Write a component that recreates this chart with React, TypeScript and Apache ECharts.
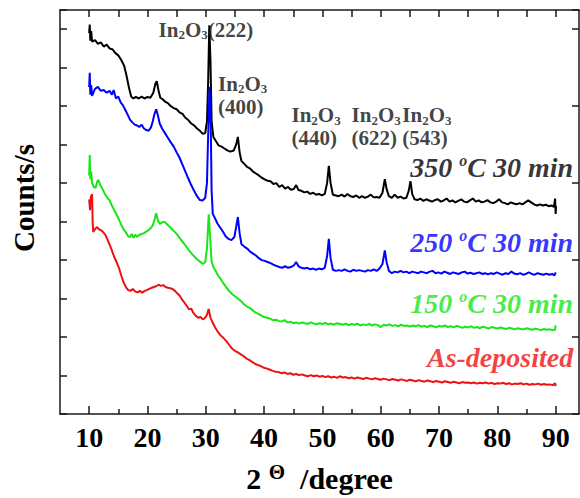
import React, { useEffect, useRef } from "react";
import * as echarts from "echarts";

// ---- data (2θ in degrees, counts in arbitrary offset units) ----
const xTickLabels = [10, 20, 30, 40, 50, 60, 70, 80, 90];
const xMinorTicks = [15, 25, 35, 45, 55, 65, 75, 85];
const xTopTicks = [10, 15, 20, 25, 30, 35, 40, 45, 50, 55, 60, 65, 70, 75, 80, 85, 90];

const sampleNames = ["350 oC 30 min", "250 oC 30 min", "150 oC 30 min", "As-deposited"];
const sampleColors = ["#000000", "#0000ff", "#19e619", "#ee1111"];
const sampleLabelY = [6.4, 4.47, 2.86, 1.47];
const sampleLabelX = 93.0;

const peakHkl = ["(222)", "(400)", "(440)", "(622)", "(543)"];
const peakLabelX = [21.9, 32.1, 44.7, 55.0, 63.7];
const peakLabelY = [9.99, 8.28, 7.46, 7.46, 7.46];

const xrd350: [number, number][] = [
  [10.0, 9.9], [10.1, 10.12], [10.2, 9.7], [10.35, 9.95], [10.5, 9.68], [11.0, 9.72], [11.5, 9.62], [12.0, 9.66],
  [12.5, 9.55], [13.0, 9.6], [13.5, 9.5], [14.0, 9.48], [14.5, 9.38], [15.0, 9.32], [15.5, 9.2], [16.0, 9.05],
  [16.4, 8.8], [16.8, 8.5], [17.2, 8.25], [17.6, 8.2], [18.0, 8.24], [18.5, 8.2], [19.0, 8.25], [19.5, 8.2],
  [20.0, 8.24], [20.5, 8.22], [21.0, 8.35], [21.4, 8.6], [21.6, 8.65], [21.9, 8.4], [22.2, 8.22], [22.6, 8.18],
  [23.0, 8.12], [23.5, 8.08], [24.0, 8.0], [24.5, 7.95], [25.0, 7.92], [25.5, 7.84], [26.0, 7.8], [26.5, 7.7],
  [27.0, 7.64], [27.5, 7.55], [28.0, 7.5], [28.5, 7.42], [29.0, 7.36], [29.5, 7.28], [29.9, 7.3], [30.2, 7.6],
  [30.4, 8.6], [30.6, 10.1], [30.8, 9.2], [31.0, 7.6], [31.3, 7.2], [31.7, 7.1], [32.2, 6.98], [32.7, 6.95],
  [33.2, 6.9], [33.7, 6.85], [34.2, 6.82], [34.8, 6.85], [35.2, 7.0], [35.5, 7.2], [35.8, 6.8], [36.1, 6.58],
  [36.6, 6.5], [37.1, 6.42], [37.6, 6.38], [38.1, 6.3], [38.6, 6.25], [39.1, 6.2], [39.6, 6.14], [40.1, 6.1],
  [40.6, 6.06], [41.1, 6.05], [41.6, 5.98], [42.1, 6.0], [42.6, 5.9], [43.1, 5.95], [43.6, 5.86], [44.1, 5.9],
  [44.6, 5.83], [45.1, 5.85], [45.5, 5.95], [45.9, 5.82], [46.4, 5.8], [46.9, 5.76], [47.4, 5.78], [47.9, 5.72],
  [48.4, 5.75], [48.9, 5.7], [49.4, 5.72], [49.9, 5.68], [50.4, 5.72], [50.8, 6.0], [51.1, 6.45], [51.4, 6.0],
  [51.8, 5.7], [52.3, 5.68], [52.8, 5.66], [53.3, 5.7], [53.8, 5.65], [54.3, 5.72], [54.8, 5.66], [55.3, 5.64],
  [55.8, 5.68], [56.3, 5.62], [56.8, 5.66], [57.3, 5.62], [57.8, 5.65], [58.3, 5.7], [58.8, 5.63], [59.3, 5.64],
  [59.8, 5.62], [60.3, 5.75], [60.7, 6.1], [61.0, 5.85], [61.4, 5.66], [61.9, 5.62], [62.4, 5.7], [62.9, 5.62],
  [63.4, 5.65], [63.9, 5.6], [64.4, 5.62], [64.8, 5.8], [65.1, 6.05], [65.4, 5.72], [65.8, 5.58], [66.3, 5.56],
  [66.8, 5.6], [67.3, 5.54], [67.8, 5.58], [68.3, 5.55], [68.8, 5.52], [69.3, 5.56], [69.8, 5.58], [70.3, 5.52],
  [70.8, 5.55], [71.3, 5.6], [71.8, 5.52], [72.3, 5.55], [72.8, 5.5], [73.3, 5.54], [73.8, 5.58], [74.3, 5.52],
  [74.8, 5.5], [75.3, 5.55], [75.8, 5.6], [76.3, 5.52], [76.8, 5.55], [77.3, 5.5], [77.8, 5.52], [78.3, 5.56],
  [78.8, 5.5], [79.3, 5.48], [79.8, 5.52], [80.3, 5.58], [80.8, 5.5], [81.3, 5.48], [81.8, 5.45], [82.3, 5.5],
  [82.8, 5.47], [83.3, 5.45], [83.8, 5.48], [84.3, 5.45], [84.8, 5.5], [85.3, 5.55], [85.8, 5.5], [86.3, 5.45],
  [86.8, 5.42], [87.3, 5.45], [87.8, 5.42], [88.3, 5.44], [88.8, 5.4], [89.3, 5.42], [89.7, 5.38], [89.9, 5.6],
  [90.0, 5.2], [90.05, 5.4],
];

const xrd250: [number, number][] = [
  [10.0, 8.5], [10.1, 8.87], [10.2, 8.3], [10.35, 8.55], [10.5, 8.27], [11.0, 8.45], [11.5, 8.5], [12.0, 8.4],
  [12.5, 8.42], [13.0, 8.35], [13.5, 8.4], [13.9, 8.3], [14.2, 8.42], [14.6, 8.2], [15.0, 8.25], [15.4, 8.1],
  [15.8, 8.02], [16.2, 7.9], [16.6, 7.78], [17.0, 7.65], [17.4, 7.58], [17.8, 7.52], [18.2, 7.5], [18.6, 7.46],
  [19.0, 7.52], [19.4, 7.42], [19.8, 7.38], [20.2, 7.36], [20.6, 7.45], [20.9, 7.6], [21.2, 7.8], [21.5, 7.92],
  [21.8, 7.75], [22.1, 7.55], [22.5, 7.42], [23.0, 7.3], [23.5, 7.18], [24.0, 7.06], [24.5, 6.95], [25.0, 6.8],
  [25.5, 6.66], [26.0, 6.48], [26.5, 6.3], [27.0, 6.12], [27.5, 5.95], [28.0, 5.8], [28.5, 5.66], [29.0, 5.56],
  [29.5, 5.55], [29.9, 5.62], [30.2, 6.0], [30.4, 7.2], [30.65, 8.5], [30.85, 7.5], [31.0, 5.8], [31.2, 5.2],
  [31.6, 5.08], [32.0, 4.95], [32.4, 4.86], [32.9, 4.75], [33.4, 4.62], [33.9, 4.55], [34.4, 4.52], [34.9, 4.6],
  [35.2, 4.85], [35.5, 5.12], [35.8, 4.7], [36.1, 4.42], [36.6, 4.35], [37.1, 4.3], [37.6, 4.22], [38.1, 4.17],
  [38.6, 4.12], [39.1, 4.05], [39.6, 4.0], [40.1, 3.98], [40.6, 3.95], [41.1, 3.92], [41.6, 3.88], [42.1, 3.85],
  [42.6, 3.82], [43.1, 3.8], [43.6, 3.84], [44.1, 3.8], [44.6, 3.82], [45.1, 3.86], [45.5, 3.95], [45.9, 3.84],
  [46.4, 3.8], [46.9, 3.78], [47.4, 3.8], [47.9, 3.76], [48.4, 3.78], [48.9, 3.75], [49.4, 3.78], [49.9, 3.76],
  [50.4, 3.8], [50.8, 4.1], [51.1, 4.55], [51.4, 4.05], [51.8, 3.75], [52.3, 3.72], [52.8, 3.74], [53.3, 3.72],
  [53.8, 3.76], [54.3, 3.72], [54.8, 3.7], [55.3, 3.75], [55.8, 3.72], [56.3, 3.74], [56.8, 3.72], [57.3, 3.7],
  [57.8, 3.74], [58.3, 3.72], [58.8, 3.76], [59.3, 3.72], [59.8, 3.78], [60.3, 3.9], [60.7, 4.25], [61.0, 3.95],
  [61.4, 3.72], [61.9, 3.66], [62.4, 3.7], [62.9, 3.68], [63.4, 3.72], [63.9, 3.68], [64.4, 3.7], [64.9, 3.66],
  [65.4, 3.7], [65.9, 3.68], [66.4, 3.66], [66.9, 3.7], [67.4, 3.68], [67.9, 3.66], [68.4, 3.7], [68.9, 3.72],
  [69.4, 3.66], [69.9, 3.68], [70.4, 3.65], [70.9, 3.7], [71.4, 3.67], [71.9, 3.64], [72.4, 3.68], [72.9, 3.66],
  [73.4, 3.64], [73.9, 3.68], [74.4, 3.7], [74.9, 3.65], [75.4, 3.67], [75.9, 3.64], [76.4, 3.66], [76.9, 3.68],
  [77.4, 3.64], [77.9, 3.66], [78.4, 3.63], [78.9, 3.66], [79.4, 3.64], [79.9, 3.68], [80.4, 3.65], [80.9, 3.62],
  [81.4, 3.66], [81.9, 3.64], [82.4, 3.7], [82.9, 3.65], [83.4, 3.63], [83.9, 3.66], [84.4, 3.62], [84.9, 3.64],
  [85.4, 3.68], [85.9, 3.64], [86.4, 3.62], [86.9, 3.66], [87.4, 3.64], [87.9, 3.62], [88.4, 3.65], [88.9, 3.62],
  [89.4, 3.64], [89.8, 3.6], [90.0, 3.68],
];

const xrd150: [number, number][] = [
  [10.0, 6.2], [10.1, 6.73], [10.2, 6.1], [10.35, 6.3], [10.5, 6.0], [10.8, 5.9], [11.1, 5.88], [11.4, 6.05],
  [11.6, 6.08], [11.9, 5.95], [12.3, 5.84], [12.7, 5.72], [13.1, 5.62], [13.5, 5.55], [13.9, 5.42], [14.3, 5.3],
  [14.7, 5.18], [15.1, 5.06], [15.5, 4.92], [15.9, 4.8], [16.3, 4.72], [16.7, 4.62], [17.0, 4.6], [17.3, 4.68],
  [17.6, 4.58], [17.9, 4.66], [18.2, 4.6], [18.6, 4.66], [19.0, 4.68], [19.4, 4.7], [19.8, 4.74], [20.2, 4.78],
  [20.6, 4.84], [20.9, 4.9], [21.2, 5.05], [21.5, 5.22], [21.8, 5.02], [22.1, 4.94], [22.5, 4.98], [22.9, 5.0],
  [23.3, 4.94], [23.7, 4.88], [24.1, 4.82], [24.5, 4.76], [25.0, 4.68], [25.5, 4.58], [26.0, 4.48], [26.5, 4.38],
  [27.0, 4.28], [27.5, 4.18], [28.0, 4.1], [28.5, 4.02], [29.0, 3.96], [29.5, 3.9], [29.9, 3.95], [30.2, 4.3],
  [30.5, 5.19], [30.75, 4.6], [31.0, 3.95], [31.3, 3.82], [31.7, 3.72], [32.1, 3.6], [32.5, 3.52], [33.0, 3.4],
  [33.5, 3.3], [34.0, 3.2], [34.5, 3.12], [35.0, 3.06], [35.5, 3.0], [36.0, 2.94], [36.5, 2.86], [37.0, 2.8],
  [37.5, 2.76], [38.0, 2.7], [38.5, 2.64], [39.0, 2.6], [39.5, 2.56], [40.0, 2.52], [40.5, 2.5], [41.0, 2.48],
  [41.5, 2.44], [42.0, 2.45], [42.5, 2.42], [43.0, 2.4], [43.5, 2.44], [44.0, 2.38], [44.5, 2.4], [45.0, 2.36],
  [45.5, 2.38], [46.0, 2.35], [46.5, 2.38], [47.0, 2.36], [47.5, 2.34], [48.0, 2.38], [48.5, 2.35], [49.0, 2.33],
  [49.5, 2.36], [50.0, 2.34], [50.5, 2.37], [51.0, 2.33], [51.5, 2.35], [52.0, 2.32], [52.5, 2.36], [53.0, 2.34],
  [53.5, 2.32], [54.0, 2.35], [54.5, 2.31], [55.0, 2.34], [55.5, 2.32], [56.0, 2.35], [56.5, 2.3], [57.0, 2.33],
  [57.5, 2.31], [58.0, 2.34], [58.5, 2.3], [59.0, 2.33], [59.5, 2.31], [60.0, 2.26], [60.5, 2.32], [61.0, 2.3],
  [61.5, 2.33], [62.0, 2.29], [62.5, 2.31], [63.0, 2.28], [63.5, 2.32], [64.0, 2.29], [64.5, 2.3], [65.0, 2.27],
  [65.5, 2.3], [66.0, 2.28], [66.5, 2.31], [67.0, 2.27], [67.5, 2.29], [68.0, 2.26], [68.5, 2.3], [69.0, 2.28],
  [69.5, 2.25], [70.0, 2.29], [70.5, 2.27], [71.0, 2.3], [71.5, 2.26], [72.0, 2.28], [72.5, 2.25], [73.0, 2.29],
  [73.5, 2.27], [74.0, 2.24], [74.5, 2.27], [75.0, 2.25], [75.5, 2.28], [76.0, 2.24], [76.5, 2.26], [77.0, 2.23],
  [77.5, 2.27], [78.0, 2.25], [78.5, 2.22], [79.0, 2.26], [79.5, 2.24], [80.0, 2.22], [80.5, 2.25], [81.0, 2.23],
  [81.5, 2.21], [82.0, 2.24], [82.5, 2.22], [83.0, 2.2], [83.5, 2.23], [84.0, 2.21], [84.5, 2.2], [85.0, 2.23],
  [85.5, 2.21], [86.0, 2.19], [86.5, 2.22], [87.0, 2.2], [87.5, 2.18], [88.0, 2.21], [88.5, 2.19], [89.0, 2.2],
  [89.5, 2.18], [89.9, 2.19], [90.0, 2.3],
];

const xrdAsDep: [number, number][] = [
  [10.0, 5.58], [10.15, 5.3], [10.3, 5.65], [10.5, 5.71], [10.6, 5.0], [10.7, 4.73], [11.0, 4.8], [11.3, 4.86],
  [11.7, 4.8], [12.0, 4.78], [12.4, 4.73], [12.8, 4.65], [13.1, 4.55], [13.5, 4.4], [13.9, 4.25], [14.3, 4.08],
  [14.7, 3.95], [15.1, 3.8], [15.5, 3.6], [15.9, 3.42], [16.3, 3.3], [16.7, 3.22], [17.1, 3.2], [17.5, 3.25],
  [17.9, 3.18], [18.3, 3.16], [18.7, 3.2], [19.1, 3.15], [19.5, 3.2], [19.9, 3.22], [20.3, 3.25], [20.7, 3.28],
  [21.1, 3.3], [21.5, 3.32], [21.9, 3.36], [22.3, 3.33], [22.7, 3.35], [23.1, 3.3], [23.5, 3.28], [23.9, 3.27],
  [24.3, 3.25], [24.7, 3.2], [25.1, 3.14], [25.5, 3.08], [25.9, 2.98], [26.3, 2.9], [26.7, 2.82], [27.1, 2.72],
  [27.5, 2.74], [27.9, 2.62], [28.3, 2.55], [28.7, 2.5], [29.1, 2.52], [29.5, 2.46], [29.9, 2.5], [30.2, 2.58],
  [30.5, 2.73], [30.8, 2.5], [31.2, 2.37], [31.6, 2.25], [32.0, 2.15], [32.5, 2.05], [33.0, 1.98], [33.5, 1.9],
  [34.0, 1.8], [34.5, 1.7], [35.0, 1.64], [35.5, 1.6], [36.0, 1.55], [36.5, 1.5], [37.0, 1.44], [37.5, 1.4],
  [38.0, 1.35], [38.5, 1.3], [39.0, 1.27], [39.5, 1.24], [40.0, 1.2], [40.5, 1.18], [41.0, 1.15], [41.5, 1.12],
  [42.0, 1.1], [42.5, 1.09], [43.0, 1.06], [43.5, 1.08], [44.0, 1.04], [44.5, 1.06], [45.0, 1.02], [45.5, 1.04],
  [46.0, 1.01], [46.5, 1.03], [47.0, 1.0], [47.5, 0.98], [48.0, 1.01], [48.5, 0.98], [49.0, 1.0], [49.5, 0.97],
  [50.0, 0.99], [50.5, 0.96], [51.0, 0.98], [51.5, 0.95], [52.0, 0.97], [52.5, 0.94], [53.0, 0.98], [53.5, 0.95],
  [54.0, 0.96], [54.5, 0.93], [55.0, 0.95], [55.5, 0.92], [56.0, 0.95], [56.5, 0.93], [57.0, 0.91], [57.5, 0.94],
  [58.0, 0.92], [58.5, 0.9], [59.0, 0.93], [59.5, 0.91], [60.0, 0.89], [60.5, 0.92], [61.0, 0.9], [61.5, 0.88],
  [62.0, 0.91], [62.5, 0.89], [63.0, 0.87], [63.5, 0.9], [64.0, 0.88], [64.5, 0.86], [65.0, 0.89], [65.5, 0.87],
  [66.0, 0.85], [66.5, 0.88], [67.0, 0.86], [67.5, 0.84], [68.0, 0.87], [68.5, 0.85], [69.0, 0.83], [69.5, 0.86],
  [70.0, 0.84], [70.5, 0.82], [71.0, 0.85], [71.5, 0.83], [72.0, 0.81], [72.5, 0.84], [73.0, 0.82], [73.5, 0.8],
  [74.0, 0.83], [74.5, 0.81], [75.0, 0.82], [75.5, 0.8], [76.0, 0.82], [76.5, 0.79], [77.0, 0.81], [77.5, 0.8],
  [78.0, 0.82], [78.5, 0.79], [79.0, 0.81], [79.5, 0.78], [80.0, 0.8], [80.5, 0.79], [81.0, 0.81], [81.5, 0.78],
  [82.0, 0.8], [82.5, 0.77], [83.0, 0.79], [83.5, 0.78], [84.0, 0.8], [84.5, 0.77], [85.0, 0.79], [85.5, 0.76],
  [86.0, 0.78], [86.5, 0.77], [87.0, 0.79], [87.5, 0.76], [88.0, 0.78], [88.5, 0.76], [89.0, 0.77], [89.5, 0.75],
  [89.9, 0.8], [90.0, 0.72],
];

const allSeries = [xrd350, xrd250, xrd150, xrdAsDep];

const SERIF = "'Liberation Serif', 'Times New Roman', 'DejaVu Serif', serif";
const FRAME = { color: "#1a1a1a", width: 1.5 };

export default function App() {
  const ref = useRef<HTMLDivElement>(null);
  useEffect(() => {
    if (!ref.current) return;
    const chart = echarts.init(ref.current, undefined, { renderer: "svg" });

    const lineSeries = allSeries.map((d, i) => ({
      type: "line",
      name: sampleNames[i],
      data: d,
      showSymbol: false,
      symbol: "none",
      silent: true,
      lineStyle: { color: sampleColors[i], width: 2 },
      z: 2,
    }));

    const sampleLabelItems = sampleNames.map((name, i) => {
      const parts = name.split(" oC ");
      const formatter =
        parts.length === 2
          ? `{m|${parts[0]} }{sup|o}{m|C ${parts[1]}}`
          : `{m|${name}}`;
      return {
        value: [sampleLabelX, sampleLabelY[i]],
        label: {
          formatter,
          align: "right",
          verticalAlign: "middle",
          rich: {
            m: {
              fontFamily: SERIF, fontSize: 28, fontWeight: "bold", fontStyle: "italic",
              color: sampleColors[i], lineHeight: 30,
            },
            sup: {
              fontFamily: SERIF, fontSize: 16, fontWeight: "bold", fontStyle: "italic",
              color: sampleColors[i], lineHeight: 16, verticalAlign: "top",
            },
          },
        },
      };
    });

    const peakLabelItems = peakHkl.map((hkl, i) => ({
      value: [peakLabelX[i], peakLabelY[i]],
      label: {
        formatter: i === 0 ? `{t|In}{s|2}{t|O}{s|3}{t|${hkl}}` : `{t|In}{s|2}{t|O}{s|3}\n{t|${hkl}}`,
        align: "left",
        verticalAlign: "middle",
      },
    }));

    const option = {
      animation: false,
      backgroundColor: "#ffffff",
      grid: { left: 60, right: 1, top: 10, bottom: 78.5, containLabel: false },
      xAxis: [
        {
          type: "value", position: "bottom", min: 5, max: 94,
          axisLine: { show: true, onZero: false, lineStyle: FRAME },
          axisTick: { show: true, inside: true, length: 8, customValues: xTickLabels, lineStyle: FRAME },
          axisLabel: {
            show: true, customValues: xTickLabels, margin: 9,
            fontFamily: SERIF, fontSize: 28, fontWeight: "bold", color: "#000",
          },
          splitLine: { show: false },
          name: "{n|2 }{th|Θ}{n|  /degree}",
          nameLocation: "middle",
          nameGap: 47,
          nameTextStyle: {
            rich: {
              n: { fontFamily: SERIF, fontSize: 30, fontWeight: "bold", color: "#000", lineHeight: 34 },
              th: { fontFamily: SERIF, fontSize: 21, fontWeight: "bold", color: "#000", lineHeight: 22, verticalAlign: "top" },
            },
          },
        },
        {
          type: "value", position: "bottom", min: 5, max: 94,
          axisLine: { show: false },
          axisTick: { show: true, inside: true, length: 5, customValues: xMinorTicks, lineStyle: FRAME },
          axisLabel: { show: false },
          splitLine: { show: false },
        },
        {
          type: "value", position: "top", min: 5, max: 94,
          axisLine: { show: true, onZero: false, lineStyle: FRAME },
          axisTick: { show: true, inside: true, length: 7, customValues: xTopTicks, lineStyle: FRAME },
          axisLabel: { show: false },
          splitLine: { show: false },
        },
      ],
      yAxis: [
        {
          type: "value", position: "left", min: 0, max: 10.5, interval: 1,
          axisLine: { show: true, onZero: false, lineStyle: FRAME },
          axisTick: { show: true, inside: true, length: 7, lineStyle: FRAME },
          axisLabel: { show: false },
          splitLine: { show: false },
          name: "Counts/s",
          nameLocation: "middle",
          nameRotate: 90,
          nameGap: 22,
          nameTextStyle: {
            fontFamily: SERIF, fontSize: 29, fontWeight: "bold", color: "#000",
            padding: [0, 0, 0, 28],
          },
        },
        {
          type: "value", position: "right", min: 0, max: 10.5, interval: 2,
          axisLine: { show: true, onZero: false, lineStyle: FRAME },
          axisTick: { show: true, inside: true, length: 7, lineStyle: FRAME },
          axisLabel: { show: false },
          splitLine: { show: false },
        },
      ],
      series: [
        ...lineSeries,
        {
          type: "scatter",
          name: "peak labels",
          symbolSize: 0,
          silent: true,
          z: 5,
          data: peakLabelItems,
          label: {
            show: true,
            position: [0, 0],
            rich: {
              t: { fontFamily: SERIF, fontSize: 21, fontWeight: "bold", color: "#111", lineHeight: 23 },
              s: { fontFamily: SERIF, fontSize: 13, fontWeight: "bold", color: "#111", lineHeight: 13, verticalAlign: "bottom" },
            },
          },
        },
        {
          type: "scatter",
          name: "sample labels",
          symbolSize: 0,
          silent: true,
          z: 5,
          data: sampleLabelItems,
          label: { show: true, position: [0, 0] },
        },
      ],
    };

    chart.setOption(option as any);
    return () => chart.dispose();
  }, []);

  return (
    <div
      ref={ref}
      style={{ position: "absolute", left: 0, top: 0, width: 580, height: 498, background: "#fff" }}
    />
  );
}
